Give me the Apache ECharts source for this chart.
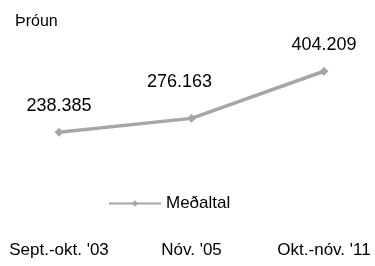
<!DOCTYPE html>
<html>
<head>
<meta charset="utf-8">
<title>Þróun</title>
<script src="https://cdn.jsdelivr.net/npm/echarts@6/dist/echarts.min.js"></script>
<style>
  html, body { margin: 0; padding: 0; background: #fff; }
  #chart { width: 375px; height: 266px; }
</style>
</head>
<body>
<div id="chart"></div>
<script>
var categories = ['Sept.-okt. \'03', 'Nóv. \'05', 'Okt.-nóv. \'11'];
var medaltal = [238385, 276163, 404209];

var font = 'Liberation Sans';

function fmt(v) {
    return String(v).replace(/\B(?=(\d{3})+(?!\d))/g, '.');
}

var chart = echarts.init(document.getElementById('chart'));

chart.setOption({
    animation: false,
    title: {
        text: 'Þróun',
        left: 15,
        top: 14,
        padding: 0,
        textStyle: { fontFamily: font, fontSize: 16, fontWeight: 'normal', color: '#000' }
    },
    legend: {
        data: ['Meðaltal'],
        left: 103,
        top: 190,
        itemWidth: 52,
        itemHeight: 8,
        itemGap: 5,
        textStyle: { fontFamily: font, fontSize: 17, color: '#000' }
    },
    grid: { left: 59, right: 51, top: 36, bottom: 46, containLabel: false, outerBoundsMode: 'none' },
    xAxis: {
        type: 'category',
        data: categories,
        boundaryGap: false,
        axisLine: { show: false },
        axisTick: { show: false },
        axisLabel: { interval: 0, fontFamily: font, fontSize: 17, color: '#000', margin: 22 }
    },
    yAxis: {
        type: 'value',
        min: 0,
        max: 500000,
        show: false
    },
    series: [{
        name: 'Meðaltal',
        type: 'line',
        data: medaltal.map(function (v, i) {
            return {
                value: v,
                label: { offset: i === 1 ? [-12, -10] : [0, 0] }
            };
        }),
        symbol: 'diamond',
        symbolSize: 9,
        lineStyle: { color: '#a6a6a6', width: 3.5 },
        itemStyle: { color: '#a6a6a6' },
        label: {
            show: true,
            position: 'top',
            distance: 13,
            fontFamily: font,
            fontSize: 18,
            color: '#000',
            formatter: function (p) { return fmt(p.value); }
        }
    }]
});
</script>
</body>
</html>
